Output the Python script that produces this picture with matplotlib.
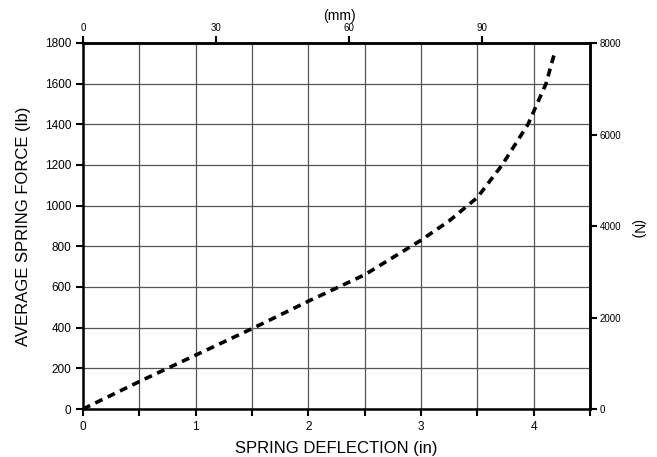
import numpy as np
import matplotlib.pyplot as plt

plt.rcParams['font.family'] = ['Liberation Sans', 'DejaVu Sans']

# spring deflection (in) vs average spring force (lb)
deflection_in = [0.0, 0.5, 1.0, 1.5, 2.0, 2.5, 3.0, 3.25, 3.5, 3.72, 3.95, 4.11, 4.18]
force_lb = [0, 135, 265, 395, 530, 660, 830, 925, 1040, 1200, 1400, 1600, 1740]

x_ticks = [0, 0.5, 1, 1.5, 2, 2.5, 3, 3.5, 4, 4.5]
x_labels = ['0', '', '1', '', '2', '', '3', '', '4', '']
y_ticks = [0, 200, 400, 600, 800, 1000, 1200, 1400, 1600, 1800]
mm_ticks = [0, 30, 60, 90]
n_ticks = [0, 2000, 4000, 6000, 8000]

MM_PER_IN = 25.4
N_PER_LB = 4.448


def main():
    fig = plt.figure(figsize=(6.57, 4.57), dpi=100)
    ax = fig.add_axes([0.1263, 0.105, 0.7717, 0.801])

    ax.plot(deflection_in, force_lb, color='black', linewidth=2.6,
            linestyle=(0, (2.2, 1.6)), solid_capstyle='butt')

    ax.set_xlim(0, 4.5)
    ax.set_ylim(0, 1800)
    ax.set_xticks(x_ticks)
    ax.set_xticklabels(x_labels, fontsize=8.5)
    ax.set_yticks(y_ticks)
    ax.set_yticklabels([str(v) for v in y_ticks], fontsize=8.5)
    ax.grid(True, color='#555555', linewidth=0.9)
    ax.set_axisbelow(True)
    ax.tick_params(direction='out', length=5, width=1.5, color='black')
    for s in ax.spines.values():
        s.set_linewidth(1.8)

    ax.set_xlabel('SPRING DEFLECTION (in)', fontsize=12, labelpad=6)
    ax.set_ylabel('AVERAGE SPRING FORCE (lb)', fontsize=12, labelpad=10)

    top = ax.secondary_xaxis('top', functions=(lambda x: x * MM_PER_IN,
                                               lambda x: x / MM_PER_IN))
    top.set_xticks(mm_ticks)
    top.set_xticklabels([str(v) for v in mm_ticks], fontsize=7)
    top.tick_params(direction='out', length=5, width=1.5, pad=2)
    top.spines['top'].set_linewidth(1.8)
    fig.text(0.517, 0.965, '(mm)', fontsize=10, ha='center', va='center')

    right = ax.secondary_yaxis('right', functions=(lambda y: y * N_PER_LB,
                                                   lambda y: y / N_PER_LB))
    right.set_yticks(n_ticks)
    right.set_yticklabels([str(v) for v in n_ticks], fontsize=7)
    right.tick_params(direction='out', length=5, width=1.5, pad=2)
    right.spines['right'].set_linewidth(1.8)
    fig.text(0.969, 0.50, '(N)', fontsize=10, ha='center', va='center',
             rotation=270)

    fig.savefig('out.png', dpi=100)


if __name__ == '__main__':
    main()
